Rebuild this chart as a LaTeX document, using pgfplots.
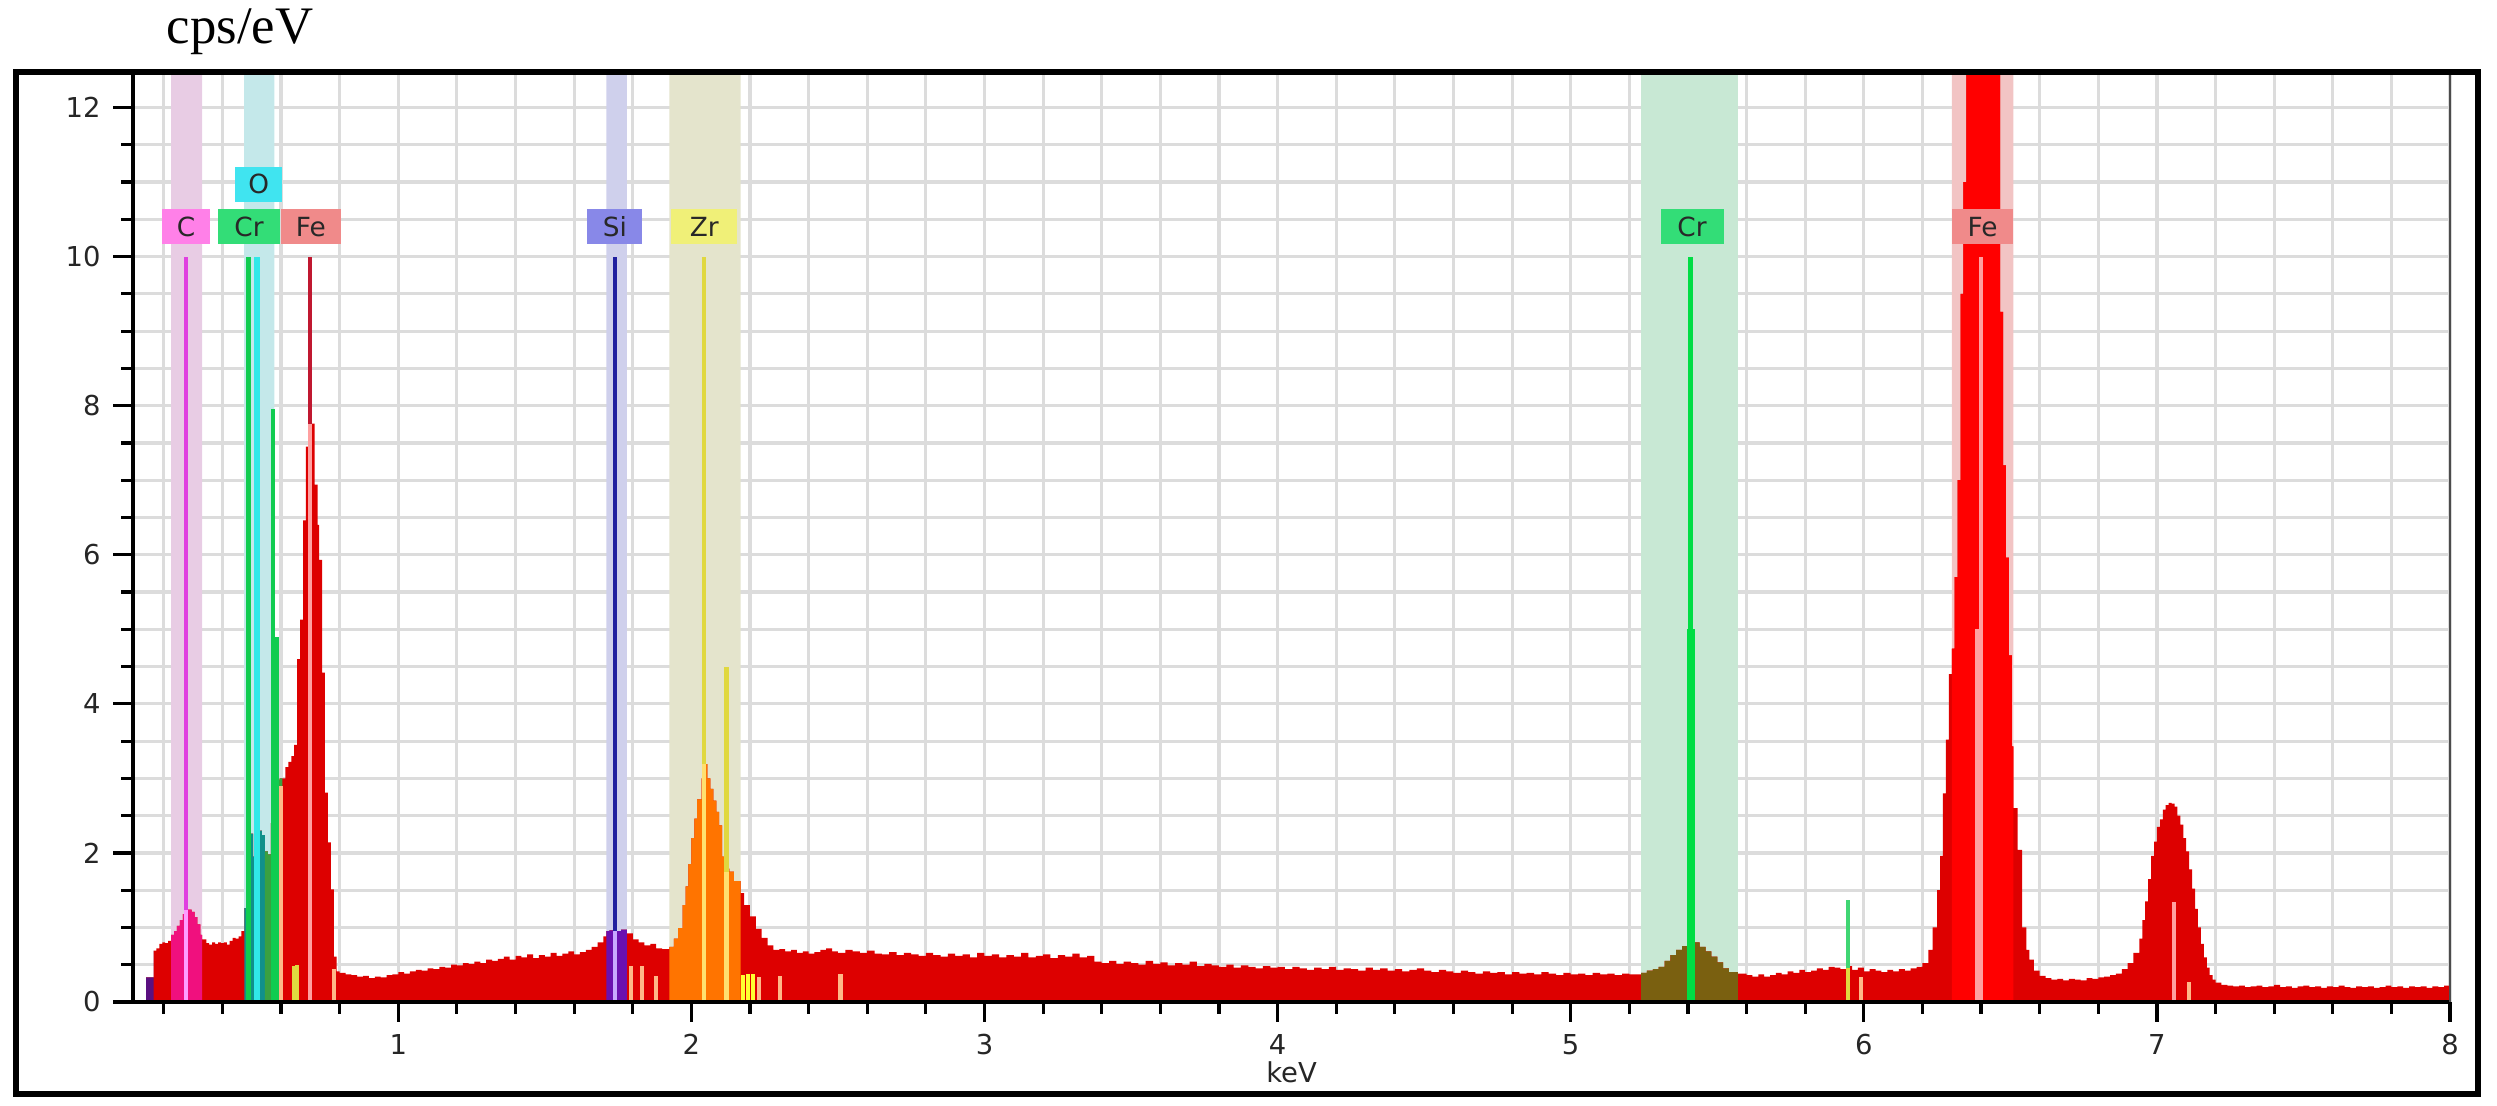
\documentclass[border=0pt]{standalone}
\usepackage{pgfplots}
\pgfplotsset{compat=1.18}
\usepackage{pgfplotstable}
\usepackage{fontspec}
\setmainfont{DejaVu Sans}
\newfontfamily\cpsfont{Liberation Serif}
\newcommand{\tickfont}{\fontsize{7.8}{9}\selectfont}
\newcommand{\labfont}{\fontsize{7.5}{9}\selectfont}

\definecolor{specred}{HTML}{DD0000}
\definecolor{fered}{HTML}{FF0000}
\definecolor{cpink}{HTML}{F0107E}
\definecolor{oteal}{HTML}{10908A}
\definecolor{crgreen}{HTML}{3AA040}
\definecolor{sipurple}{HTML}{6A10B0}
\definecolor{zrorange}{HTML}{FF7400}
\definecolor{crolive}{HTML}{7A6010}
\definecolor{startpurple}{HTML}{5A1080}
\definecolor{bandC}{HTML}{E8CCE4}
\definecolor{bandO}{HTML}{C4E8EA}
\definecolor{bandSi}{HTML}{CFD0EC}
\definecolor{bandZr}{HTML}{E4E4CC}
\definecolor{bandCr}{HTML}{C8E8D4}
\definecolor{bandFe}{HTML}{F2C4C4}
\definecolor{boxC}{HTML}{FF80E8}
\definecolor{boxO}{HTML}{40E4F0}
\definecolor{boxCr}{HTML}{33DD77}
\definecolor{boxFe}{HTML}{F08A8A}
\definecolor{boxSi}{HTML}{8888E8}
\definecolor{boxZr}{HTML}{F0F078}
\definecolor{lineC}{HTML}{E040E0}
\definecolor{lineClow}{HTML}{FF9CFF}
\definecolor{lineCr}{HTML}{10CC50}
\definecolor{lineO}{HTML}{30E8E8}
\definecolor{lineFe}{HTML}{C01830}
\definecolor{lineFelow}{HTML}{FFA0A0}
\definecolor{lineSi}{HTML}{2020A0}
\definecolor{lineSilow}{HTML}{C8A8FF}
\definecolor{lineZr}{HTML}{E0D840}
\definecolor{lineZrlow}{HTML}{FFE070}
\definecolor{lineCrK}{HTML}{00DD44}
\definecolor{peach}{HTML}{FFB888}
\definecolor{yel}{HTML}{FFFF30}
\definecolor{gridgray}{HTML}{DCDCDC}
\definecolor{labtext}{HTML}{282828}

\pgfplotstableread{
x y
0.095 0
0.140 0.33
0.165 0.69
0.175 0.72
0.185 0.78
0.195 0.80
0.205 0.79
0.215 0.82
0.225 0.90
0.235 0.95
0.245 1.02
0.255 1.10
0.265 1.18
0.275 1.24
0.285 1.24
0.295 1.21
0.305 1.14
0.315 1.04
0.325 0.90
0.331 0.84
0.345 0.79
0.355 0.77
0.365 0.80
0.375 0.78
0.385 0.80
0.395 0.79
0.405 0.80
0.415 0.77
0.425 0.82
0.435 0.86
0.445 0.85
0.455 0.88
0.465 0.95
0.475 1.26
0.485 2.28
0.495 2.26
0.505 1.95
0.515 2.31
0.525 2.30
0.535 2.24
0.545 2.02
0.555 1.98
0.565 2.40
0.575 2.85
0.585 2.98
0.595 3.00
0.605 3.00
0.615 3.15
0.625 3.22
0.635 3.30
0.645 3.45
0.655 4.60
0.665 5.13
0.675 6.46
0.685 7.45
0.695 7.76
0.705 7.76
0.715 6.94
0.725 6.40
0.730 5.93
0.740 4.42
0.750 2.81
0.760 2.14
0.770 1.51
0.780 0.61
0.790 0.41
0.80 0.39
0.82 0.37
0.84 0.36
0.86 0.34
0.88 0.35
0.90 0.32
0.92 0.34
0.94 0.33
0.96 0.36
0.98 0.37
1.00 0.40
1.02 0.38
1.04 0.41
1.06 0.43
1.08 0.42
1.10 0.45
1.12 0.44
1.14 0.47
1.16 0.46
1.18 0.50
1.20 0.49
1.22 0.52
1.24 0.51
1.26 0.54
1.28 0.52
1.30 0.57
1.32 0.55
1.34 0.58
1.36 0.61
1.38 0.57
1.40 0.62
1.42 0.60
1.44 0.64
1.46 0.59
1.48 0.63
1.50 0.61
1.52 0.66
1.54 0.62
1.56 0.65
1.58 0.68
1.60 0.64
1.62 0.67
1.64 0.70
1.66 0.74
1.68 0.80
1.70 0.88
1.71 0.95
1.72 0.96
1.74 0.95
1.76 0.97
1.78 0.92
1.80 0.84
1.82 0.80
1.84 0.76
1.86 0.78
1.88 0.72
1.90 0.71
1.925 0.74
1.94 0.85
1.955 0.99
1.97 1.30
1.98 1.55
1.99 1.85
2.00 2.20
2.01 2.46
2.02 2.72
2.035 3.00
2.045 3.19
2.055 3.00
2.065 2.86
2.075 2.70
2.085 2.55
2.095 2.37
2.105 1.95
2.115 1.79
2.13 1.75
2.145 1.62
2.168 1.46
2.18 1.30
2.20 1.15
2.22 0.98
2.24 0.86
2.26 0.76
2.28 0.70
2.30 0.71
2.32 0.68
2.34 0.70
2.36 0.66
2.38 0.68
2.40 0.65
2.42 0.67
2.44 0.70
2.46 0.72
2.48 0.68
2.50 0.66
2.525 0.70
2.55 0.68
2.575 0.66
2.60 0.69
2.625 0.65
2.65 0.64
2.675 0.67
2.70 0.63
2.725 0.66
2.75 0.64
2.775 0.62
2.80 0.66
2.825 0.63
2.85 0.61
2.875 0.65
2.90 0.62
2.925 0.64
2.95 0.60
2.975 0.66
3.00 0.62
3.025 0.64
3.05 0.60
3.075 0.63
3.10 0.61
3.125 0.66
3.15 0.60
3.175 0.62
3.20 0.64
3.225 0.59
3.25 0.63
3.275 0.61
3.30 0.65
3.325 0.60
3.35 0.62
3.375 0.54
3.40 0.52
3.425 0.55
3.45 0.51
3.475 0.54
3.50 0.52
3.525 0.50
3.55 0.55
3.575 0.51
3.60 0.53
3.625 0.49
3.65 0.52
3.675 0.50
3.70 0.54
3.725 0.48
3.75 0.51
3.775 0.49
3.80 0.47
3.825 0.50
3.85 0.46
3.875 0.49
3.90 0.47
3.925 0.45
3.95 0.48
3.975 0.46
4.00 0.47
4.025 0.44
4.05 0.47
4.075 0.45
4.10 0.43
4.125 0.46
4.15 0.44
4.175 0.47
4.20 0.43
4.225 0.45
4.25 0.44
4.275 0.42
4.30 0.46
4.325 0.43
4.35 0.45
4.375 0.42
4.40 0.44
4.425 0.41
4.45 0.43
4.475 0.45
4.50 0.42
4.525 0.40
4.55 0.43
4.575 0.41
4.60 0.39
4.625 0.42
4.65 0.40
4.675 0.38
4.70 0.41
4.725 0.39
4.75 0.40
4.775 0.37
4.80 0.40
4.825 0.38
4.85 0.39
4.875 0.37
4.90 0.40
4.925 0.38
4.95 0.36
4.975 0.39
5.00 0.37
5.025 0.38
5.05 0.36
5.075 0.39
5.10 0.37
5.125 0.38
5.15 0.36
5.175 0.38
5.20 0.37
5.24 0.39
5.26 0.42
5.28 0.44
5.30 0.47
5.32 0.55
5.34 0.63
5.36 0.70
5.38 0.75
5.40 0.78
5.42 0.80
5.44 0.74
5.46 0.68
5.48 0.61
5.50 0.53
5.52 0.45
5.54 0.40
5.57 0.38
5.60 0.36
5.62 0.34
5.64 0.37
5.66 0.34
5.68 0.36
5.70 0.39
5.72 0.37
5.74 0.41
5.76 0.39
5.78 0.43
5.80 0.40
5.82 0.42
5.84 0.45
5.86 0.43
5.88 0.47
5.90 0.46
5.92 0.44
5.94 0.48
5.96 0.43
5.98 0.46
6.00 0.41
6.02 0.44
6.04 0.42
6.06 0.40
6.08 0.43
6.10 0.41
6.12 0.44
6.14 0.42
6.16 0.45
6.18 0.47
6.20 0.52
6.22 0.70
6.235 1.00
6.25 1.50
6.26 1.96
6.27 2.80
6.28 3.52
6.29 4.40
6.30 4.74
6.31 5.70
6.32 7.00
6.33 9.50
6.34 11.0
6.35 13.5
6.36 16.0
6.38 19.0
6.40 21.0
6.42 19.0
6.44 15.5
6.455 12.8
6.465 9.26
6.475 7.20
6.485 5.96
6.495 4.65
6.505 3.43
6.51 2.60
6.525 2.04
6.54 1.00
6.555 0.70
6.565 0.57
6.58 0.42
6.60 0.35
6.62 0.32
6.64 0.30
6.66 0.31
6.68 0.29
6.70 0.31
6.72 0.30
6.74 0.29
6.76 0.32
6.78 0.31
6.80 0.33
6.82 0.34
6.84 0.36
6.86 0.38
6.88 0.44
6.90 0.52
6.92 0.66
6.94 0.85
6.95 1.10
6.96 1.35
6.97 1.65
6.98 1.96
6.99 2.15
7.00 2.35
7.01 2.45
7.02 2.58
7.03 2.64
7.04 2.67
7.05 2.66
7.06 2.62
7.07 2.50
7.08 2.38
7.09 2.20
7.10 2.02
7.11 1.78
7.12 1.52
7.13 1.25
7.14 1.00
7.15 0.78
7.16 0.60
7.17 0.46
7.18 0.36
7.19 0.30
7.20 0.26
7.22 0.23
7.24 0.22
7.26 0.21
7.28 0.22
7.30 0.20
7.32 0.21
7.34 0.22
7.36 0.20
7.38 0.21
7.40 0.23
7.42 0.20
7.44 0.21
7.46 0.19
7.48 0.21
7.50 0.22
7.52 0.20
7.54 0.21
7.56 0.19
7.58 0.21
7.60 0.20
7.62 0.22
7.64 0.20
7.66 0.19
7.68 0.21
7.70 0.20
7.72 0.21
7.74 0.19
7.76 0.20
7.78 0.22
7.80 0.20
7.82 0.21
7.84 0.19
7.86 0.21
7.88 0.20
7.90 0.21
7.92 0.19
7.94 0.21
7.96 0.20
7.98 0.22
8.00 0.21
}\spec

\begin{document}
\begin{tikzpicture}
\useasboundingbox (0,0) rectangle (24.97cm,11.06cm);
\begin{axis}[
  name=ax,
  at={(1.33cm,1.04cm)}, anchor=south west,
  scale only axis, width=23.17cm, height=9.28cm,
  xmin=0.095, xmax=8, ymin=0, ymax=12.45,
  axis x line*=bottom, axis y line*=left,
  axis line style={line width=1pt, black},
  xtick={1,2,3,4,5,6,7,8},
  minor xtick={0.2,0.4,0.6,0.8,1.2,1.4,1.6,1.8,2.2,2.4,2.6,2.8,3.2,3.4,3.6,3.8,4.2,4.4,4.6,4.8,5.2,5.4,5.6,5.8,6.2,6.4,6.6,6.8,7.2,7.4,7.6,7.8},
  ytick={0,2,4,6,8,10,12},
  minor ytick={0.5,1,1.5,2.5,3,3.5,4.5,5,5.5,6.5,7,7.5,8.5,9,9.5,10.5,11,11.5,12},
  tick align=outside,
  major tick length=2mm, minor tick length=1.2mm,
  tick style={black, line width=0.9pt},
  grid=both,
  major grid style={gridgray, line width=0.9pt},
  minor grid style={gridgray, line width=0.9pt},
  /pgf/number format/assume math mode=true,
  ticklabel style={font=\tickfont, text=black!85},
  xlabel={keV},
  xlabel style={font=\tickfont, text=black!85, at={(axis description cs:0.5,0)}, anchor=center, yshift=-7mm},
  no markers,
]
% element bands
\addplot[fill=bandC, draw=none] coordinates {(0.225,0) (0.225,12.45) (0.331,12.45) (0.331,0)} \closedcycle;
\addplot[fill=bandO, draw=none] coordinates {(0.474,0) (0.474,12.45) (0.577,12.45) (0.577,0)} \closedcycle;
\addplot[fill=bandSi, draw=none] coordinates {(1.71,0) (1.71,12.45) (1.78,12.45) (1.78,0)} \closedcycle;
\addplot[fill=bandZr, draw=none] coordinates {(1.925,0) (1.925,12.45) (2.168,12.45) (2.168,0)} \closedcycle;
\addplot[fill=bandCr, draw=none] coordinates {(5.24,0) (5.24,12.45) (5.57,12.45) (5.57,0)} \closedcycle;
\addplot[fill=bandFe, draw=none] coordinates {(6.30,0) (6.30,12.45) (6.51,12.45) (6.51,0)} \closedcycle;
% spectrum
\addplot[const plot, fill=specred, draw=none] table {\spec} \closedcycle;
\addplot[const plot, fill=startpurple, draw=none, restrict x to domain=0.139:0.166] table {\spec} \closedcycle;
\addplot[const plot, fill=cpink, draw=none, restrict x to domain=0.224:0.332] table {\spec} \closedcycle;
\addplot[const plot, fill=oteal, draw=none, restrict x to domain=0.474:0.546] table {\spec} \closedcycle;
\addplot[const plot, fill=crgreen, draw=none, restrict x to domain=0.544:0.606] table {\spec} \closedcycle;
\addplot[const plot, fill=sipurple, draw=none, restrict x to domain=1.709:1.781] table {\spec} \closedcycle;
\addplot[const plot, fill=zrorange, draw=none, restrict x to domain=1.924:2.169] table {\spec} \closedcycle;
\addplot[const plot, fill=crolive, draw=none, restrict x to domain=5.239:5.571] table {\spec} \closedcycle;
\addplot[const plot, fill=fered, draw=none, restrict x to domain=6.299:6.511] table {\spec} \closedcycle;
% small lines near baseline
\addplot[ycomb, draw=peach, line width=1.2pt] coordinates {(0.782,0.44) (1.794,0.48) (1.832,0.48) (1.88,0.35) (2.23,0.34) (2.303,0.35) (2.509,0.37) (5.99,0.33) (7.11,0.27)};
\addplot[ycomb, draw=yel, line width=1.2pt] coordinates {(2.177,0.36) (2.194,0.38) (2.211,0.37)};
\addplot[ycomb, draw=lineZr, line width=1.2pt] coordinates {(0.645,0.48) (0.655,0.50) (5.945,0.45)};
% element marker lines
\addplot[lineClow, line width=1.2pt] coordinates {(0.277,0) (0.277,1.24)};
\addplot[lineC, line width=1.2pt] coordinates {(0.277,1.24) (0.277,10)};
\addplot[lineCr, line width=1.5pt] coordinates {(0.490,0) (0.490,10)};
\addplot[lineO, line width=1.5pt] coordinates {(0.518,0) (0.518,10)};
\addplot[lineCr, line width=1.3pt] coordinates {(0.572,0) (0.572,7.95)};
\addplot[lineCr, line width=1.3pt] coordinates {(0.585,0) (0.585,4.9)};
\addplot[peach, line width=1pt] coordinates {(0.600,0) (0.600,2.9)};
\addplot[lineFelow, line width=1.2pt] coordinates {(0.700,0) (0.700,7.76)};
\addplot[lineFe, line width=1.2pt] coordinates {(0.700,7.76) (0.700,10)};
\addplot[lineSilow, line width=1.2pt] coordinates {(1.740,0) (1.740,0.95)};
\addplot[lineSi, line width=1.2pt] coordinates {(1.740,0.95) (1.740,10)};
\addplot[lineZrlow, line width=1.2pt] coordinates {(2.044,0) (2.044,3.19)};
\addplot[lineZr, line width=1.2pt] coordinates {(2.044,3.19) (2.044,10)};
\addplot[lineZrlow, line width=1.2pt] coordinates {(2.120,0) (2.120,1.75)};
\addplot[lineZr, line width=1.2pt] coordinates {(2.120,1.75) (2.120,4.5)};
\addplot[lineCrK, line width=2.3pt] coordinates {(5.41,0) (5.41,5)};
\addplot[lineCrK, line width=1.4pt] coordinates {(5.41,5) (5.41,10)};
\addplot[lineCr!80, line width=1.2pt] coordinates {(5.946,0.45) (5.946,1.37)};
\addplot[lineFelow, line width=1.2pt] coordinates {(6.40,0) (6.40,10)};
\addplot[lineFelow, line width=1.2pt] coordinates {(6.385,0) (6.385,5)};
\addplot[lineFelow, line width=1.2pt] coordinates {(7.057,0) (7.057,1.34)};
% element labels
\begin{scope}[every node/.style={inner sep=0pt, minimum height=3.5mm, font=\labfont, text=labtext}]
\node[fill=boxC, minimum width=4.8mm] at (axis cs:0.276,10.40) {C};
\node[fill=boxCr, minimum width=6.2mm] at (axis cs:0.491,10.40) {Cr};
\node[fill=boxFe, minimum width=6.0mm] at (axis cs:0.702,10.40) {Fe};
\node[fill=boxO, minimum width=4.7mm] at (axis cs:0.524,10.97) {O};
\node[fill=boxSi, minimum width=5.5mm] at (axis cs:1.739,10.40) {Si};
\node[fill=boxZr, minimum width=6.6mm] at (axis cs:2.044,10.40) {Zr};
\node[fill=boxCr, minimum width=6.3mm] at (axis cs:5.414,10.40) {Cr};
\node[fill=boxFe, minimum width=6.1mm] at (axis cs:6.405,10.40) {Fe};
\end{scope}
\end{axis}
\draw[line width=1pt, black] (ax.south west) -- (ax.south east);
\draw[line width=0.6pt, black!70] (ax.south east) -- (ax.north east);
\draw[line width=1.7pt, black] (0.16cm,0.12cm) rectangle (24.78cm,10.34cm);
\node[font=\cpsfont\fontsize{15}{17}\selectfont, anchor=center] at (2.40cm,10.74cm) {cps/eV};
\end{tikzpicture}
\end{document}
